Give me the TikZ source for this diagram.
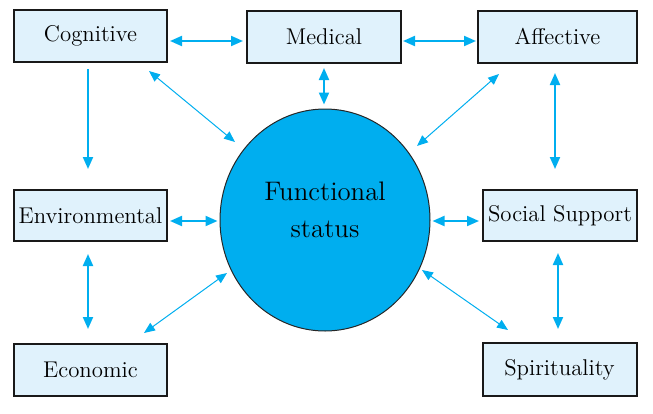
\documentclass[tikz,border=0pt]{standalone}
\usetikzlibrary{arrows.meta,calc,shapes.geometric}
\definecolor{cyanarrow}{HTML}{00AEEF}
\definecolor{boxfill}{HTML}{E0F2FC}
\definecolor{circfill}{HTML}{00AEEF}
\tikzset{
  factor/.style={draw=black!90, line width=1pt, fill=boxfill, inner sep=0pt,
    font=\fontsize{11.4}{13}\selectfont},
  arr/.style={draw=cyanarrow, line width=1pt, {Triangle[length=6pt,width=5pt]}-{Triangle[length=6pt,width=5pt]}},
  arrone/.style={draw=cyanarrow, line width=1pt, -{Triangle[length=6pt,width=5pt]}},
  thinarr/.style={draw=cyanarrow, line width=0.5pt, {Triangle[length=5.5pt,width=4.5pt]}-{Triangle[length=5.5pt,width=4.5pt]}},
}
\begin{document}
\begin{tikzpicture}[x=0.5pt,y=-0.5pt]
\useasboundingbox (0,0) rectangle (653,413);
% nodes
\node[factor, minimum width=76.5pt, minimum height=26pt] (cog) at (90.5,36) {Cognitive};
\node[factor, minimum width=77pt, minimum height=26pt] (med) at (324,37) {Medical};
\node[factor, minimum width=79.5pt, minimum height=26pt] (aff) at (557.5,36.5) {Affective};
\node[factor, minimum width=76.5pt, minimum height=25.5pt] (env) at (90.5,215.5) {Environmental};
\node[factor, minimum width=77pt, minimum height=25.5pt] (soc) at (560,215.5) {Social Support};
\node[factor, minimum width=76.5pt, minimum height=26pt] (eco) at (90.5,370) {Economic};
\node[factor, minimum width=77pt, minimum height=26.5pt] (spi) at (559.5,369.5) {Spirituality};
\node[ellipse, draw=black!85, line width=0.5pt, fill=circfill, inner sep=0pt,
      minimum width=105pt, minimum height=111pt,
      label={[align=center, yshift=5pt, font=\fontsize{13.4}{18.5}\selectfont]center:{Functional\\status}}] (fs) at (325,220) {};
% connectors
\draw[arr] ($(cog.east)+(2,5)$) -- ($(med.west)+(-3,4)$);
\draw[arr] ($(med.east)+(1,4)$) -- ($(aff.west)+(-1,4.5)$);
\draw[arr] ($(med.south)+(0,4)$) -- ($(fs.north)+(-1,-4)$);
\draw[thinarr] ($(cog.south east)+(-19,8)$) -- ($(fs.center)+(-90,-78)$);
\draw[thinarr] ($(aff.south west)+(22,10.5)$) -- ($(fs.center)+(92,-74)$);
\draw[arrone] ($(cog.south)+(-2.5,6)$) -- ($(env.north)+(-2.5,-20)$);
\draw[arr] ($(aff.south)+(-2.5,9.5)$) -- ($(soc.north)+(-5,-20)$);
\draw[arr] ($(env.east)+(2,5.5)$) -- ($(fs.west)+(-2,1)$);
\draw[arr] ($(fs.east)+(2,1)$) -- ($(soc.west)+(-3,5.5)$);
\draw[arr] ($(env.south)+(-2.5,12)$) -- ($(eco.north)+(-2.5,-14)$);
\draw[thinarr] ($(eco.north east)+(-24,-10)$) -- ($(fs.center)+(-98,53)$);
\draw[arr] ($(soc.south)+(-2,11)$) -- ($(spi.north)+(-1.5,-13)$);
\draw[thinarr] ($(fs.center)+(97,50)$) -- ($(spi.north west)+(26.5,-12)$);
\end{tikzpicture}
\end{document}
